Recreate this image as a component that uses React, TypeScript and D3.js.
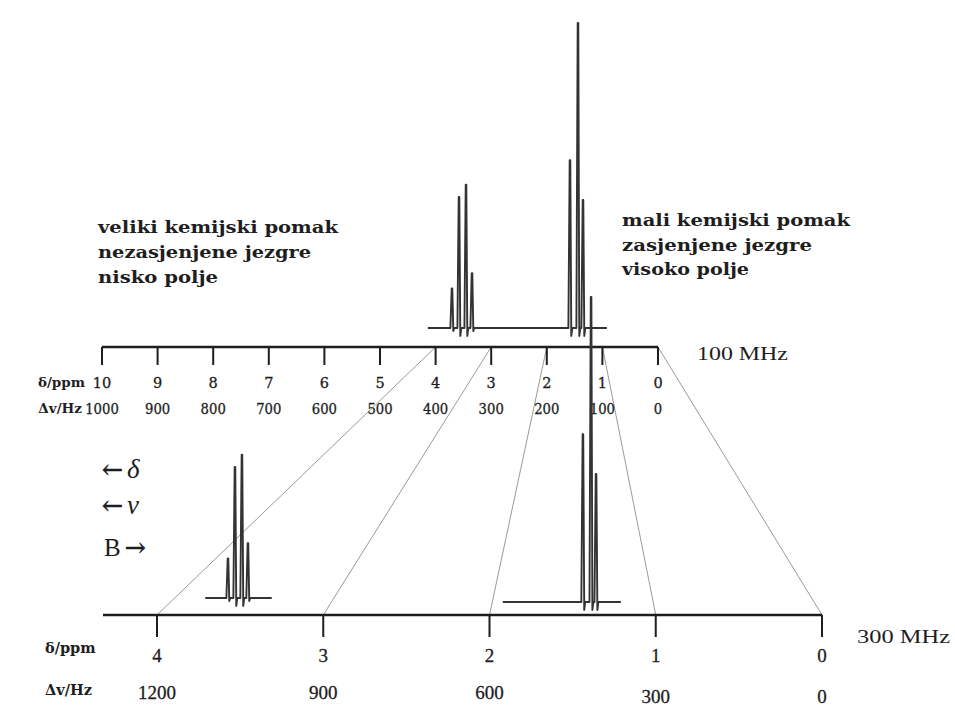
import React from "react";
import * as d3 from "d3";

// ---- data ----
const topTicksPpm = [10, 9, 8, 7, 6, 5, 4, 3, 2, 1, 0];
const topTicksHz = ["1000", "900", "800", "700", "600", "500", "400", "300", "200", "100", "0"];
const botTicksPpm = [4, 3, 2, 1, 0];
const botTicksHz = ["1200", "900", "600", "300", "0"];
const linkPpm = [4, 3, 2, 1, 0];

// peaks at 100 MHz (ppm, relative intensity)
const top100Ppm = [3.705, 3.579, 3.453, 3.345, 1.583, 1.439, 1.349];
const top100Int = [13, 43, 47, 18, 55, 100, 42];
const top100Range = [4.14, 0.92];

// peaks at 300 MHz
const bot300QuartetPpm = [3.573, 3.531, 3.489, 3.453];
const bot300QuartetInt = [13, 43, 47, 18];
const bot300QuartetRange = [3.71, 3.31];
const bot300TripletPpm = [1.438, 1.389, 1.359];
const bot300TripletInt = [55, 100, 42];
const bot300TripletRange = [1.92, 1.21];

const leftText = ["veliki kemijski pomak", "nezasjenjene jezgre", "nisko polje"];
const rightText = ["mali kemijski pomak", "zasjenjene jezgre", "visoko polje"];

export default function App() {
  const W = 955, H = 709;
  const xTop = d3.scaleLinear().domain([10, 0]).range([102, 658]);
  const xBot = d3.scaleLinear().domain([4, 0]).range([157, 822]);
  const yTopAxis = 347;
  const yBotAxis = 615;
  const hScale = d3.scaleLinear().domain([0, 100]).range([0, 305]);

  const line = d3.line<[number, number]>().x(d => d[0]).y(d => d[1]);

  const spectrum = (
    x: d3.ScaleLinear<number, number>,
    ppm: number[],
    inten: number[],
    range: number[],
    base: number
  ) => {
    const pts: [number, number][] = [];
    const order = ppm.map((p, i) => i).sort((a, b) => x(ppm[a]) - x(ppm[b]));
    pts.push([x(range[0]), base]);
    order.forEach(i => {
      const px = x(ppm[i]);
      const h = hScale(inten[i]);
      pts.push([px - 1.6, base]);
      pts.push([px - 0.3, base - h]);
      pts.push([px + 0.3, base - h]);
      pts.push([px + 1.3, base + (h > 60 ? 8 : 3)]);
      pts.push([px + 2.3, base]);
    });
    pts.push([x(range[1]), base]);
    return line(pts) || "";
  };

  const serif = "'DejaVu Serif', serif";
  const tserif = "'Liberation Serif', serif";
  const ink = "#1e1e1e";

  return (
    <svg width={W} height={H} style={{ position: "absolute", left: 0, top: 0, background: "#fff" }}>
      <rect width={W} height={H} fill="#fff" />
      {/* connecting lines */}
      {linkPpm.map(p => (
        <line key={"l" + p} x1={xTop(p)} y1={yTopAxis} x2={xBot(p)} y2={yBotAxis}
          stroke="#9a9a9a" strokeWidth={1} />
      ))}

      {/* top spectrum */}
      <path d={spectrum(xTop, top100Ppm, top100Int, top100Range, 328)} fill="none" stroke="#333" strokeWidth={1.9} strokeLinejoin="round" />

      {/* top axis */}
      <line x1={xTop(10)} x2={xTop(0)} y1={yTopAxis} y2={yTopAxis} stroke={ink} strokeWidth={2.5} />
      {topTicksPpm.map((p, i) => (
        <g key={"tt" + p}>
          <line x1={xTop(p)} x2={xTop(p)} y1={yTopAxis} y2={yTopAxis + 18} stroke={ink} strokeWidth={2} />
          <text x={xTop(p)} y={388} textAnchor="middle" fontFamily={serif} fontSize={14.5} fill={ink} stroke={ink} strokeWidth={0.3}>{p}</text>
          <text x={xTop(p)} y={414} textAnchor="middle" fontFamily={serif} fontSize={14} fill={ink} stroke={ink} strokeWidth={0.3}
            textLength={topTicksHz[i].length * 8.4} lengthAdjust="spacingAndGlyphs">{topTicksHz[i]}</text>
        </g>
      ))}
      <text x={85} y={387} textAnchor="end" fontFamily={serif} fontWeight="bold" fontSize={13.5} fill={ink}>δ/ppm</text>
      <text x={82} y={413} textAnchor="end" fontFamily={serif} fontWeight="bold" fontSize={13.5} fill={ink}>Δv/Hz</text>
      <text x={697} y={360} fontFamily={tserif} fontSize={19} fill={ink} textLength={91} lengthAdjust="spacingAndGlyphs">100 MHz</text>

      {/* bottom spectra */}
      <path d={spectrum(xBot, bot300QuartetPpm, bot300QuartetInt, bot300QuartetRange, 598)} fill="none" stroke="#333" strokeWidth={1.9} strokeLinejoin="round" />
      <path d={spectrum(xBot, bot300TripletPpm, bot300TripletInt, bot300TripletRange, 602)} fill="none" stroke="#333" strokeWidth={1.9} strokeLinejoin="round" />

      {/* bottom axis */}
      <line x1={103} x2={xBot(0)} y1={yBotAxis} y2={yBotAxis} stroke={ink} strokeWidth={2.5} />
      {botTicksPpm.map((p, i) => (
        <g key={"bt" + p}>
          <line x1={xBot(p)} x2={xBot(p)} y1={yBotAxis} y2={yBotAxis + 22} stroke={ink} strokeWidth={2} />
          <text x={xBot(p)} y={662} textAnchor="middle" fontFamily={tserif} fontSize={19} fill={ink} stroke={ink} strokeWidth={0.3}>{p}</text>
          <text x={xBot(p)} y={i >= 3 ? 703 : 699} textAnchor="middle" fontFamily={tserif} fontSize={19} fill={ink} stroke={ink} strokeWidth={0.3}>{botTicksHz[i]}</text>
        </g>
      ))}
      <text x={45} y={653} fontFamily={serif} fontWeight="bold" fontSize={14.5} fill={ink}>δ/ppm</text>
      <text x={45} y={695} fontFamily={serif} fontWeight="bold" fontSize={14.5} fill={ink}>Δv/Hz</text>
      <text x={857} y={643} fontFamily={tserif} fontSize={19} fill={ink} textLength={93} lengthAdjust="spacingAndGlyphs">300 MHz</text>

      {/* annotations */}
      {leftText.map((t, i) => (
        <text key={"lt" + i} x={98} y={233 + i * 25} fontFamily={serif} fontWeight="bold" fontSize={16} fill={ink}
          textLength={[240, 213, 120][i]} lengthAdjust="spacingAndGlyphs">{t}</text>
      ))}
      {rightText.map((t, i) => (
        <text key={"rt" + i} x={622} y={226 + i * 24.5} fontFamily={serif} fontWeight="bold" fontSize={16} fill={ink}
          textLength={[228, 190, 127][i]} lengthAdjust="spacingAndGlyphs">{t}</text>
      ))}

      <text x={102} y={478} fontFamily={tserif} fontSize={27} fill={ink}>
        <tspan fontFamily={serif} fontSize={25} stroke={ink} strokeWidth={0.6}>←</tspan>
        <tspan dx={4} fontStyle="italic">δ</tspan>
      </text>
      <text x={102} y={514} fontFamily={tserif} fontSize={27} fill={ink}>
        <tspan fontFamily={serif} fontSize={25} stroke={ink} strokeWidth={0.6}>←</tspan>
        <tspan dx={4} fontStyle="italic">ν</tspan>
      </text>
      <text x={104} y={556} fontFamily={tserif} fontSize={25} fill={ink}>
        B<tspan dx={4} fontFamily={serif} fontSize={25} stroke={ink} strokeWidth={0.6}>→</tspan>
      </text>
    </svg>
  );
}
